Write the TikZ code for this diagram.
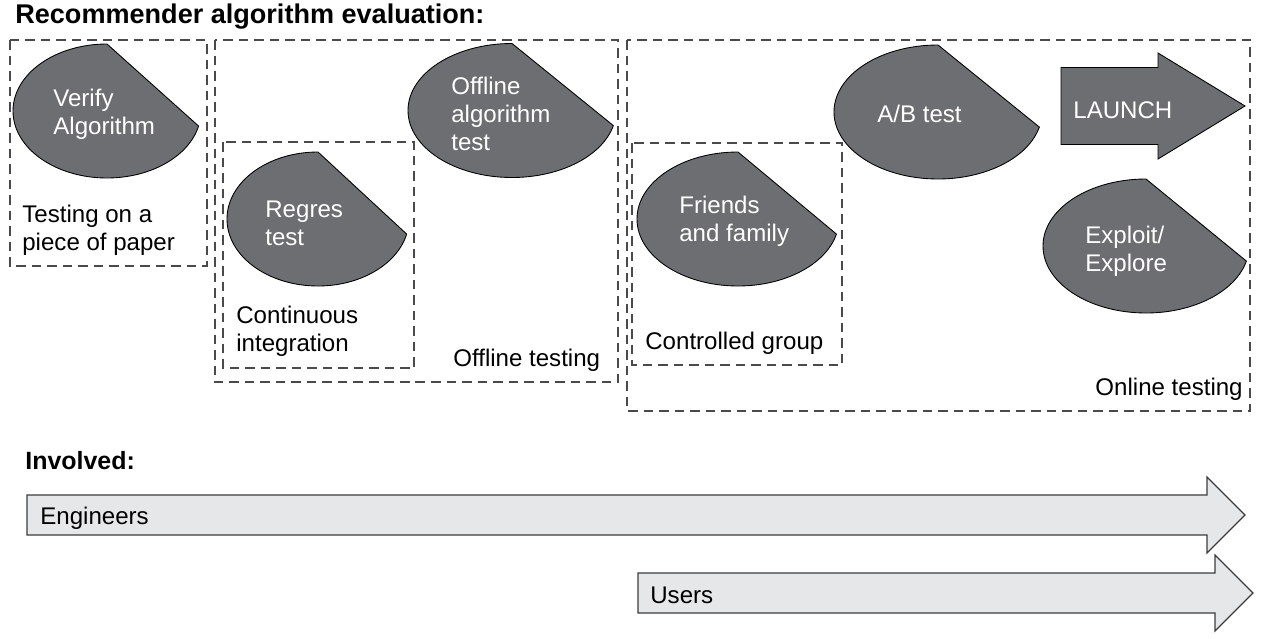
\documentclass[tikz,border=0pt]{standalone}
\usepackage{fontspec}
\setmainfont{Liberation Sans}
\usepackage{tikz}
\definecolor{dropgray}{HTML}{6D6E71}
\definecolor{bandgray}{HTML}{E6E7E8}
\definecolor{dashgray}{HTML}{4A4A4A}
\definecolor{edgegray}{HTML}{3C3C3C}

\begin{document}
\begin{tikzpicture}[
  title/.style={anchor=base west, inner sep=0pt, font=\fontsize{15.4}{18}\selectfont\bfseries},
  subtitle/.style={anchor=west, inner sep=0pt, font=\fontsize{14.2}{17}\selectfont\bfseries},
  group/.style={draw=dashgray, line width=0.8pt, dash pattern=on 0.19cm off 0.12cm},
  grouptext/.style={anchor=west, align=left, inner sep=0pt, text=black, yshift=-0.04cm,
                    font=\fontsize{13.7}{15.9}\selectfont},
  drop/.style={draw=black, line width=0.5pt, fill=dropgray},
  droptext/.style={grouptext, text=white},
  band/.style={draw=edgegray, line width=0.7pt, fill=bandgray},
]

\useasboundingbox (0,0) rectangle (25.32,-12.76);

\node[title] (title) at (0.30,-0.48) {Recommender algorithm evaluation:};

% test groups
\draw[group] (0.20,-0.80) rectangle (4.14,-5.32);
\draw[group] (4.30,-0.80) rectangle (12.36,-7.64);
\draw[group] (4.46,-2.84) rectangle (8.28,-7.36);
\draw[group] (12.54,-0.80) rectangle (25.00,-8.22);
\draw[group] (12.64,-2.86) rectangle (16.84,-7.30);

% drops
\draw[drop] (2.14,-0.88) arc[start angle=90, end angle=347, x radius=1.88, y radius=1.34] -- cycle;
\draw[drop] (6.36,-3.04) arc[start angle=90, end angle=347, x radius=1.82, y radius=1.34] -- cycle;
\draw[drop] (10.24,-0.87) arc[start angle=90, end angle=347, x radius=2.08, y radius=1.34] -- cycle;
\draw[drop] (14.76,-3.04) arc[start angle=90, end angle=347, x radius=2.02, y radius=1.34] -- cycle;
\draw[drop] (18.76,-0.90) arc[start angle=90, end angle=347, x radius=2.08, y radius=1.34] -- cycle;
\draw[drop] (22.92,-3.58) arc[start angle=90, end angle=347, x radius=2.06, y radius=1.34] -- cycle;
\draw[drop] (21.22,-1.35) -- (23.16,-1.35) -- (23.16,-1.06) -- (24.90,-2.12)
  -- (23.16,-3.18) -- (23.16,-2.89) -- (21.22,-2.89) -- cycle;

\node[droptext] (verify) at (1.06,-2.24) {Verify\\Algorithm};
\node[droptext] (regres) at (5.30,-4.43) {Regres\\test};
\node[droptext] (offline) at (9.02,-2.24) {Offline\\algorithm\\test};
\node[droptext] (friends) at (13.58,-4.38) {Friends\\and family};
\node[droptext] (abtest) at (17.54,-2.24) {A/B test};
\node[droptext] (launch) at (21.46,-2.16) {LAUNCH};
\node[droptext] (exploit) at (21.70,-4.98) {Exploit/\\Explore};

\node[grouptext] (paper) at (0.44,-4.56) {Testing on a\\piece of paper};
\node[grouptext] (ci) at (4.72,-6.59) {Continuous\\integration};
\node[grouptext] (offlinetest) at (9.06,-7.16) {Offline testing};
\node[grouptext] (controlled) at (12.90,-6.82) {Controlled group};
\node[grouptext, anchor=east] (onlinetest) at (24.86,-7.74) {Online testing};

% who is involved
\node[subtitle] (involved) at (0.50,-9.22) {Involved:};
\draw[band] (0.54,-9.90) -- (24.14,-9.90) -- (24.14,-9.54) -- (24.90,-10.30)
  -- (24.14,-11.06) -- (24.14,-10.70) -- (0.54,-10.70) -- cycle;
\draw[band] (12.76,-11.46) -- (24.30,-11.46) -- (24.30,-11.10) -- (25.06,-11.86)
  -- (24.30,-12.62) -- (24.30,-12.26) -- (12.76,-12.26) -- cycle;
\node[grouptext] (engineers) at (0.80,-10.32) {Engineers};
\node[grouptext] (users) at (13.00,-11.86) {Users};

\end{tikzpicture}
\end{document}
